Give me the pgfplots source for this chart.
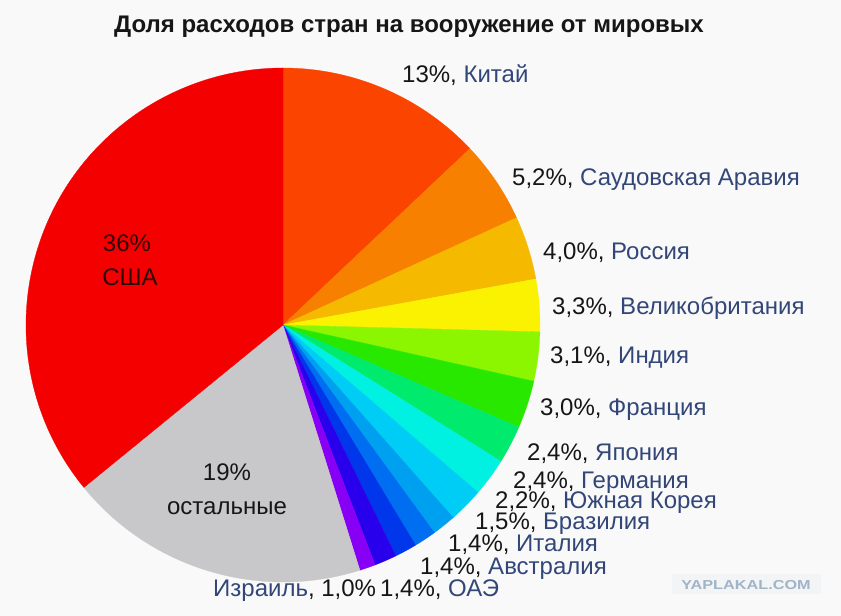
\documentclass[border=0pt]{standalone}
\usepackage{fontspec}
\setmainfont{Liberation Sans}
\usepackage{pgfplots}
\usepackage{pgfplotstable}
\pgfplotsset{compat=1.18}
\definecolor{bg}{RGB}{249,249,249}
\definecolor{lblue}{RGB}{50,70,120}
\definecolor{txt}{RGB}{22,22,22}
\definecolor{txtred}{RGB}{45,8,8}
\definecolor{wmbox}{RGB}{243,244,246}
\definecolor{wmtxt}{RGB}{160,180,200}
\definecolor{cUS}{RGB}{245,0,0}
\definecolor{cCN}{RGB}{250,68,0}
\definecolor{cSA}{RGB}{248,128,0}
\definecolor{cRU}{RGB}{245,185,0}
\definecolor{cUK}{RGB}{250,242,0}
\definecolor{cIN}{RGB}{140,245,0}
\definecolor{cFR}{RGB}{40,232,0}
\definecolor{cJP}{RGB}{0,235,110}
\definecolor{cDE}{RGB}{0,240,225}
\definecolor{cKR}{RGB}{0,205,245}
\definecolor{cBR}{RGB}{0,160,240}
\definecolor{cIT}{RGB}{0,110,240}
\definecolor{cAU}{RGB}{0,55,235}
\definecolor{cAE}{RGB}{40,0,235}
\definecolor{cIL}{RGB}{135,0,245}
\definecolor{cOT}{RGB}{200,200,202}
\pgfplotstableread{
share col
13   cCN
5.2  cSA
4.0  cRU
3.3  cUK
3.1  cIN
3.0  cFR
2.4  cJP
2.4  cDE
2.2  cKR
1.5  cBR
1.4  cIT
1.4  cAU
1.4  cAE
1.0  cIL
19   cOT
36   cUS
}\piedata
\pgfplotstablegetrowsof{\piedata}
\pgfmathtruncatemacro\nrows{\pgfplotsretval-1}
\def\total{0}
\pgfplotsforeachungrouped \i in {0,...,\nrows}{%
  \pgfplotstablegetelem{\i}{share}\of\piedata
  \pgfmathsetmacro\total{\total+\pgfplotsretval}%
}
\newcommand\lab[4]{\node[anchor=base west,inner sep=0pt,font=\fontsize{24}{28}\selectfont] at (axis cs:#1,#2) {\textcolor{txt}{#3}\textcolor{lblue}{#4}};}
\begin{document}
\begin{tikzpicture}
\begin{axis}[x=1pt,y=1pt,xmin=0,xmax=841,ymin=0,ymax=616,hide axis,clip=false,
  anchor=south west, at={(0,0)}]
\fill[bg] (axis cs:0,0) rectangle (axis cs:841,616);
\def\cum{0}
\pgfplotsforeachungrouped \i in {0,...,\nrows}{%
  \pgfplotstablegetelem{\i}{share}\of\piedata
  \let\sliceshare\pgfplotsretval
  \pgfplotstablegetelem{\i}{col}\of\piedata
  \let\slicecol\pgfplotsretval
  \pgfmathsetmacro\angA{90-\cum/\total*360}%
  \pgfmathsetmacro\cum{\cum+\sliceshare}%
  \pgfmathsetmacro\angB{90-\cum/\total*360}%
  \edef\temp{\noexpand\addplot[draw=\slicecol, line width=0.3pt, fill=\slicecol, forget plot] coordinates {(283,291)} -- ++(\angA:257pt) arc[start angle=\angA, end angle=\angB, radius=257pt] -- cycle;}%
  \temp
}
% title
\node[anchor=base,inner sep=0pt,font=\fontsize{24}{29}\selectfont\bfseries,text=txt] at (axis cs:409,583) {Доля расходов стран на вооружение от мировых};
% inner labels
\node[inner sep=0pt,font=\fontsize{24}{28}\selectfont,text=txtred] at (axis cs:127,373) {36\%};
\node[inner sep=0pt,font=\fontsize{24}{28}\selectfont,text=txtred] at (axis cs:130,339) {США};
\node[inner sep=0pt,font=\fontsize{24}{28}\selectfont,text=txt] at (axis cs:227,144) {19\%};
\node[inner sep=0pt,font=\fontsize{24}{28}\selectfont,text=txt] at (axis cs:227,108) {остальные};
% outer labels
\lab{402}{533}{13\%, }{Китай}
\lab{512}{430}{5,2\%, }{Саудовская Аравия}
\lab{543}{356}{4,0\%, }{Россия}
\lab{552}{301}{3,3\%, }{Великобритания}
\lab{550}{252}{3,1\%, }{Индия}
\lab{540}{200}{3,0\%, }{Франция}
\lab{527}{155}{2,4\%, }{Япония}
\lab{513}{127}{2,4\%, }{Германия}
\lab{495}{107}{2,2\%, }{Южная Корея}
\lab{475}{86}{1,5\%, }{Бразилия}
\lab{448}{64}{1,4\%, }{Италия}
\lab{420}{41}{1,4\%, }{Австралия}
\lab{380}{19}{1,4\%, }{ОАЭ}
\node[anchor=base west,inner sep=0pt,font=\fontsize{24}{28}\selectfont] at (axis cs:213,19) {\textcolor{lblue}{Израиль}\textcolor{txt}{, 1,0\%}};
% watermark
\fill[wmbox] (axis cs:672,22) rectangle (axis cs:821,42);
\node[inner sep=0pt,text=wmtxt,font=\fontsize{13}{13}\selectfont\bfseries] at (axis cs:746,31) {\scalebox{1.25}[1]{YAPLAKAL.COM}};
\end{axis}
\pgfresetboundingbox
\path[use as bounding box] (0pt,0pt) rectangle (841pt,616pt);
\end{tikzpicture}
\end{document}
